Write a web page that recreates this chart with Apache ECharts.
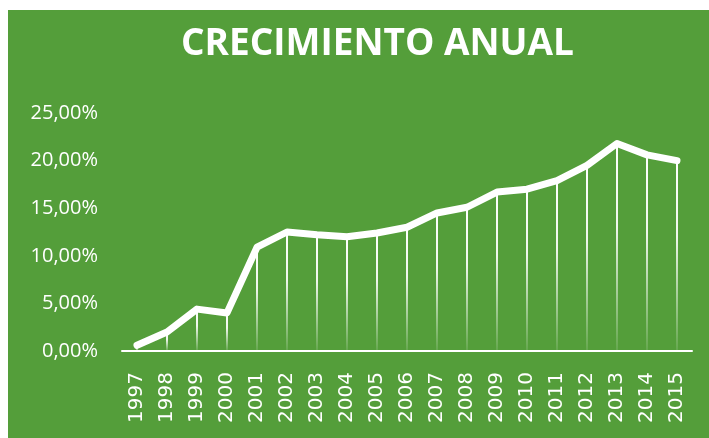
<!DOCTYPE html>
<html>
<head>
<meta charset="utf-8">
<title>Crecimiento anual</title>
<script src="https://cdn.jsdelivr.net/npm/echarts@6/dist/echarts.min.js"></script>
<style>
  html, body { margin: 0; padding: 0; background: #ffffff; }
  #chart { position: absolute; left: 8px; top: 10px; width: 701px; height: 428px; }
</style>
</head>
<body>
<div id="chart"></div>
<script>
// Annual growth, in percent
const years = ['1997','1998','1999','2000','2001','2002','2003','2004','2005','2006',
               '2007','2008','2009','2010','2011','2012','2013','2014','2015'];
const growth = [0.6, 2.0, 4.4, 4.0, 10.9, 12.5, 12.2, 12.0, 12.4, 13.0,
                14.5, 15.1, 16.7, 17.0, 17.9, 19.5, 21.8, 20.6, 20.0];
const yTicks = { min: 0, max: 25, interval: 5 };

const fmtPct = v => v.toFixed(2).replace('.', ',') + '%';

const chart = echarts.init(document.getElementById('chart'));
chart.setOption({
  backgroundColor: '#549E3A',
  animation: false,
  title: {
    text: 'CRECIMIENTO ANUAL',
    left: 168,
    top: 11,
    textStyle: {
      color: '#ffffff',
      fontFamily: 'Open Sans',
      fontWeight: 'bold',
      fontSize: 37
    }
  },
  grid: { left: 114, right: 17, top: 103, bottom: 87 },
  xAxis: {
    type: 'category',
    data: years,
    boundaryGap: true,
    axisLine: { show: true, lineStyle: { color: '#ffffff', width: 2 } },
    axisTick: { show: false },
    axisLabel: {
      rotate: 90,
      margin: 21,
      color: '#ffffff',
      fontFamily: 'DejaVu Sans',
      fontSize: 20,
      interval: 0
    }
  },
  yAxis: {
    type: 'value',
    min: yTicks.min,
    max: yTicks.max,
    interval: yTicks.interval,
    axisLine: { show: false },
    axisTick: { show: false },
    splitLine: { show: false },
    axisLabel: {
      margin: 24,
      color: '#ffffff',
      fontFamily: 'Open Sans',
      fontSize: 20,
      formatter: fmtPct
    }
  },
  series: [
    {
      // drop lines from each point to the axis
      type: 'bar',
      data: growth,
      barWidth: 2,
      silent: true,
      itemStyle: {
        color: new echarts.graphic.LinearGradient(0, 0, 0, 1, [
          { offset: 0, color: 'rgba(255,255,255,1)' },
          { offset: 0.4, color: 'rgba(255,255,255,0.9)' },
          { offset: 1, color: 'rgba(255,255,255,0.1)' }
        ])
      }
    },
    {
      type: 'line',
      data: growth,
      showSymbol: false,
      symbol: 'none',
      lineStyle: { color: '#ffffff', width: 7, cap: 'round', join: 'round' },
      z: 5
    }
  ]
});
</script>
</body>
</html>
